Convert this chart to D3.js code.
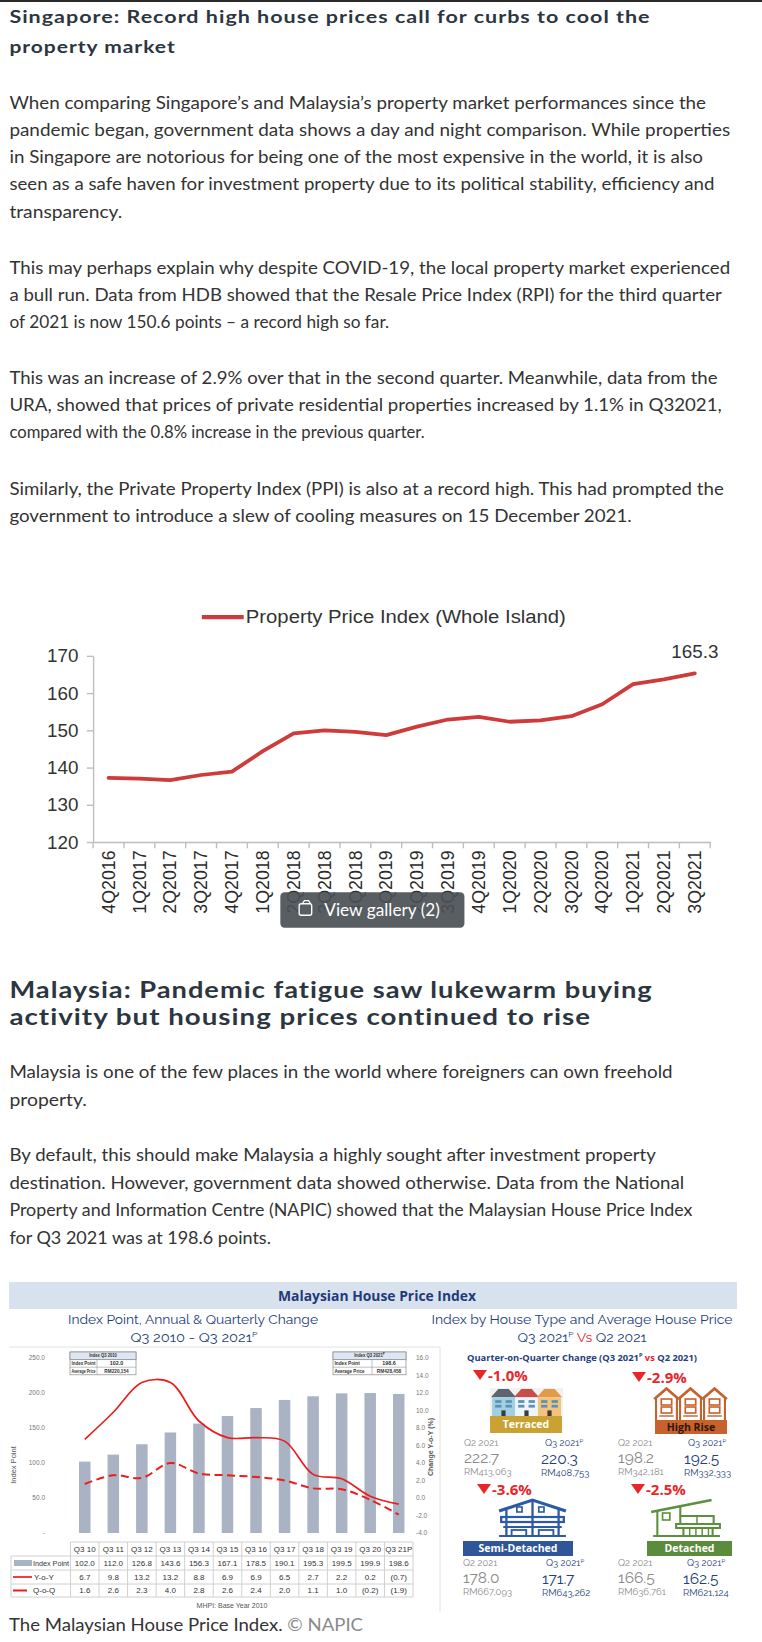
<!DOCTYPE html>
<html>
<head>
<meta charset="utf-8">
<script src="https://cdn.jsdelivr.net/npm/d3@7"></script>
<style>
body { margin: 0; background: #fff; }
svg { display: block; }
</style>
</head>
<body>
<svg id="page" width="762" height="1642"></svg>
<script>
// ---------- data ----------
const sgQuarters = ["4Q2016","1Q2017","2Q2017","3Q2017","4Q2017","1Q2018","2Q2018","3Q2018","4Q2018",
  "1Q2019","2Q2019","3Q2019","4Q2019","1Q2020","2Q2020","3Q2020","4Q2020","1Q2021","2Q2021","3Q2021"];
const sgIndex = [137.2,137.0,136.6,138.0,138.9,144.4,149.2,150.0,149.6,148.7,151.0,152.9,153.6,
  152.3,152.7,153.8,157.0,162.4,163.7,165.3];
const sgTicks = [120,130,140,150,160,170];

const myQuarters = ["Q3 10","Q3 11","Q3 12","Q3 13","Q3 14","Q3 15","Q3 16","Q3 17","Q3 18","Q3 19","Q3 20","Q3 21P"];
const myIndexPoint = [102.0,112.0,126.8,143.6,156.3,167.1,178.5,190.1,195.3,199.5,199.9,198.6];
const myYoY = [6.7,9.8,13.2,13.2,8.8,6.9,6.9,6.5,2.7,2.2,0.2,-0.7];
const myQoQ = [1.6,2.6,2.3,4.0,2.8,2.6,2.4,2.0,1.1,1.0,-0.2,-1.9];
const leftTicks = [0,50,100,150,200,250];
const rightTicks = [-4,-2,0,2,4,6,8,10,12,14,16];
const startBox = [["Index Q3 2010",""],["Index Point","102.0"],["Average Price","RM220,154"]];
const endBox = [["Index Q3 2021",""],["Index Point","198.6"],["Average Price","RM428,458"]];

const houseTypes = ["Terraced","High Rise","Semi-Detached","Detached"];
const houseChange = [-1.0,-2.9,-3.6,-2.5];
const houseIndexQ2 = [222.7,198.2,178.0,166.5];
const houseIndexQ3 = [220.3,192.5,171.7,162.5];
const housePriceQ2 = ["RM413,063","RM342,181","RM667,093","RM636,761"];
const housePriceQ3 = ["RM408,753","RM332,333","RM643,262","RM621,124"];

// ---------- page ----------
const svg = d3.select("#page");
svg.append("rect").attr("width",762).attr("height",1642).attr("fill","#fff");
svg.append("rect").attr("x",0).attr("y",0).attr("width",762).attr("height",2).attr("fill","#2a2a2a");

// article part (laid out on a slightly smaller grid, then scaled up)
const article = svg.append("g").attr("transform","scale(1.046)");

const BODY = "Lato, 'Open Sans', sans-serif";
const textBlocks = [
  {type:"h1", y0:22, lh:29, lines:[["Singapore: Record high house prices call for curbs to cool the",613],["property market",159]]},
  {type:"p", y0:104, lh:26, lines:[
    ["When comparing Singapore\u2019s and Malaysia\u2019s property market performances since the",666],
    ["pandemic began, government data shows a day and night comparison. While properties",689],
    ["in Singapore are notorious for being one of the most expensive in the world, it is also",663],
    ["seen as a safe haven for investment property due to its political stability, efficiency and",674],
    ["transparency.",108]]},
  {type:"p", y0:262, lh:26, lines:[
    ["This may perhaps explain why despite COVID-19, the local property market experienced",689],
    ["a bull run. Data from HDB showed that the Resale Price Index (RPI) for the third quarter",681],
    ["of 2021 is now 150.6 points \u2013 a record high so far.",363]]},
  {type:"p", y0:367, lh:26, lines:[
    ["This was an increase of 2.9% over that in the second quarter. Meanwhile, data from the",677],
    ["URA, showed that prices of private residential properties increased by 1.1% in Q32021,",681],
    ["compared with the 0.8% increase in the previous quarter.",397]]},
  {type:"p", y0:473, lh:26, lines:[
    ["Similarly, the Private Property Index (PPI) is also at a record high. This had prompted the",683],
    ["government to introduce a slew of cooling measures on 15 December 2021.",595]]},
  {type:"h2", y0:954, lh:26, lines:[["Malaysia: Pandemic fatigue saw lukewarm buying",615],["activity but housing prices continued to rise",556]]},
  {type:"p", y0:1031, lh:26, lines:[
    ["Malaysia is one of the few places in the world where foreigners can own freehold",634],
    ["property.",74]]},
  {type:"p", y0:1110, lh:26.3, lines:[
    ["By default, this should make Malaysia a highly sought after investment property",618],
    ["destination. However, government data showed otherwise. Data from the National",645],
    ["Property and Information Centre (NAPIC) showed that the Malaysian House Price Index",653],
    ["for Q3 2021 was at 198.6 points.",250]]}
];
const styles = {
  h1: {size:17, weight:700, fill:"#2c3640", ls:0.8},
  h2: {size:22, weight:700, fill:"#2c3640", ls:0.8},
  p:  {size:16.5, weight:400, fill:"#333", ls:0}
};
textBlocks.forEach(b => {
  const st = styles[b.type];
  article.append("g").selectAll("text").data(b.lines).join("text")
    .attr("x", 9).attr("y", (d,i) => b.y0 + i*b.lh)
    .attr("font-family", BODY).attr("font-size", st.size).attr("font-weight", st.weight)
    .attr("letter-spacing", st.ls).attr("fill", st.fill)
    .attr("textLength", d => d[1]).attr("lengthAdjust", "spacingAndGlyphs")
    .text(d => d[0]);
});

// ---------- Singapore line chart ----------
const ARIAL = "'Liberation Sans', Arial, sans-serif";
const sgX = d3.scaleBand().domain(sgQuarters).range([89, 679]);
const sgY = d3.scaleLinear().domain([120, 170]).range([805, 627]);
const sg = article.append("g");

sg.append("g").attr("transform","translate(89,0)")
  .call(d3.axisLeft(sgY).tickValues(sgTicks).tickSize(6).tickSizeOuter(0).tickPadding(8))
  .call(g => {
    g.selectAll("path,line").attr("stroke","#bdbdbd").attr("stroke-width",1.3);
    g.selectAll("text").attr("font-family",ARIAL).attr("font-size",18).attr("fill","#333");
  });
sg.append("g").attr("transform","translate(0,805)")
  .call(d3.axisBottom(sgX).tickSize(0).tickFormat(""))
  .call(g => g.select("path").attr("stroke","#bdbdbd").attr("stroke-width",1.3));
sg.append("g").selectAll("line").data(d3.range(sgQuarters.length + 1)).join("line")
  .attr("x1", i => sgX.range()[0] + i*sgX.step()).attr("x2", i => sgX.range()[0] + i*sgX.step())
  .attr("y1", 805).attr("y2", 811).attr("stroke","#bdbdbd").attr("stroke-width",1.3);
sg.append("g").selectAll("text").data(sgQuarters).join("text")
  .attr("transform", d => `translate(${sgX(d) + sgX.bandwidth()/2},813) rotate(-90)`)
  .attr("dy","0.35em").attr("text-anchor","end")
  .attr("font-family",ARIAL).attr("font-size",17).attr("fill","#2a2a2a")
  .text(d => d);

sg.append("path").datum(sgIndex)
  .attr("fill","none").attr("stroke","#cf3a3a").attr("stroke-width",3.6)
  .attr("stroke-linejoin","round").attr("stroke-linecap","round")
  .attr("d", d3.line().x((d,i) => sgX(sgQuarters[i]) + sgX.bandwidth()/2).y(d => sgY(d)));

const lastI = sgIndex.length - 1;
sg.append("text")
  .attr("x", sgX(sgQuarters[lastI]) + sgX.bandwidth()/2).attr("y", 629)
  .attr("text-anchor","middle").attr("font-family",ARIAL).attr("font-size",18).attr("fill","#333")
  .text(sgIndex[lastI].toFixed(1));

sg.append("line").attr("x1",193).attr("x2",233).attr("y1",590).attr("y2",590)
  .attr("stroke","#cf3a3a").attr("stroke-width",4);
sg.append("text").attr("x",235).attr("y",596)
  .attr("font-family",ARIAL).attr("font-size",18).attr("fill","#333")
  .attr("textLength",306).attr("lengthAdjust","spacingAndGlyphs")
  .text("Property Price Index (Whole Island)");

// gallery button
const btn = article.append("g");
btn.append("rect").attr("x",268).attr("y",853).attr("width",176).attr("height",34).attr("rx",4)
  .attr("fill","#4b5056").attr("opacity",0.92);
btn.append("rect").attr("x",286).attr("y",864).attr("width",12).attr("height",11).attr("rx",2)
  .attr("fill","none").attr("stroke","#fff").attr("stroke-width",1.3);
btn.append("path").attr("d","M289,864 L291,861 L295,861 L297,864").attr("fill","none").attr("stroke","#fff").attr("stroke-width",1.2);
btn.append("text").attr("x",310).attr("y",876).attr("font-family",BODY).attr("font-size",16.5)
  .attr("fill","#fff").text("View gallery (2)");

// ---------- Malaysian House Price Index infographic ----------
const NAVY = "#24407a";
const RED = "#e8262a";
const TITLE = "Raleway, Lato, sans-serif";
const SANS = "'Open Sans', sans-serif";
const M = svg.append("g");
M.append("rect").attr("x",9).attr("y",1282).attr("width",728).attr("height",27).attr("fill","#d8e1ee");
M.append("text").attr("x",377).attr("y",1301).attr("text-anchor","middle")
  .attr("font-family",SANS).attr("font-weight",700).attr("font-size",14.5).attr("fill","#1f3b78")
  .attr("textLength",198).attr("lengthAdjust","spacingAndGlyphs")
  .text("Malaysian House Price Index");

function title(x, y, parts, size, len) {
  const t = M.append("text").attr("x",x).attr("y",y).attr("text-anchor","middle")
    .attr("font-family",TITLE).attr("font-size",size).attr("fill",NAVY);
  if (len) t.attr("textLength",len).attr("lengthAdjust","spacingAndGlyphs");
  parts.forEach(p => {
    const s = t.append("tspan").text(p.t);
    if (p.sup) s.attr("baseline-shift","super").attr("font-size",size*0.6);
    if (p.fill) s.attr("fill",p.fill);
    if (p.weight) s.attr("font-weight",p.weight);
  });
  return t;
}
title(193, 1324, [{t:"Index Point, Annual & Quarterly Change"}], 13.5, 250);
title(194, 1342, [{t:"Q3 2010 -  Q3 2021"},{t:"P",sup:true}], 13.5, 127);
title(582, 1324, [{t:"Index by House Type and Average House Price"}], 13.5, 301);
title(582, 1342, [{t:"Q3 2021"},{t:"P",sup:true},{t:" Vs ",fill:RED},{t:"Q2 2021"}], 13.5, 129);
title(582, 1361, [{t:"Quarter-on-Quarter Change (Q3 2021",weight:700},{t:"P",sup:true,weight:700},{t:" vs ",fill:RED,weight:700},{t:"Q2 2021)",weight:700}], 9.5, 230)
  .attr("font-family",SANS);

// chart frame
M.append("line").attr("x1",9).attr("x2",440).attr("y1",1347).attr("y2",1347).attr("stroke","#e2e2e2");
M.append("line").attr("x1",440).attr("x2",440).attr("y1",1347).attr("y2",1612).attr("stroke","#e2e2e2");

const mx = d3.scaleBand().domain(myQuarters).range([70.5, 413]);
const myL = d3.scaleLinear().domain([0, 250]).range([1533, 1358]);
const myR = d3.scaleLinear().domain([-4, 16]).range([1533, 1358]);
const cx = q => mx(q) + mx.bandwidth()/2;
const SMALL = "'Liberation Sans', Arial, sans-serif";

M.append("g").selectAll("text").data(leftTicks).join("text")
  .attr("x",45).attr("y",d => myL(d) + 2.2).attr("text-anchor","end")
  .attr("font-family",SMALL).attr("font-size",6.5).attr("fill","#777")
  .text(d => d === 0 ? "-" : d.toFixed(1));
M.append("g").selectAll("text").data(rightTicks).join("text")
  .attr("x",416).attr("y",d => myR(d) + 2.2)
  .attr("font-family",SMALL).attr("font-size",6.5).attr("fill","#777")
  .text(d => d.toFixed(1));
M.append("text").attr("transform","translate(16,1465) rotate(-90)").attr("text-anchor","middle")
  .attr("font-family",SMALL).attr("font-size",7.5).attr("fill","#555").text("Index Point");
M.append("text").attr("transform","translate(433,1447) rotate(-90)").attr("text-anchor","middle")
  .attr("font-family",SMALL).attr("font-size",7).attr("font-weight",700).attr("fill","#555").text("Change Y-o-Y (%)");

M.append("g").selectAll("rect").data(myIndexPoint).join("rect")
  .attr("x",(d,i) => cx(myQuarters[i]) - 5.75).attr("width",11.5)
  .attr("y",d => myL(d)).attr("height",d => myL(0) - myL(d))
  .attr("fill","#a9b3c3");

const curve = d3.curveCatmullRom.alpha(0.5);
M.append("path").datum(myYoY).attr("fill","none").attr("stroke","#ee1c1c").attr("stroke-width",1.7)
  .attr("d", d3.line().x((d,i) => cx(myQuarters[i])).y(d => myR(d)).curve(curve));
M.append("path").datum(myQoQ).attr("fill","none").attr("stroke","#ee1c1c").attr("stroke-width",2)
  .attr("stroke-dasharray","8,4.5")
  .attr("d", d3.line().x((d,i) => cx(myQuarters[i])).y(d => myR(d)).curve(curve));

function miniBox(x, y, w, split, rows, supFirst) {
  const g = M.append("g");
  const rh = 7.6;
  g.append("rect").attr("x",x).attr("y",y).attr("width",w).attr("height",rh*3).attr("fill","#fff").attr("stroke","#888").attr("stroke-width",0.7);
  g.append("rect").attr("x",x).attr("y",y).attr("width",w).attr("height",rh).attr("fill","#dde6f2").attr("stroke","#888").attr("stroke-width",0.7);
  const cell = (tx, ty, txt, maxW, anchor) => g.append("text").attr("x",tx).attr("y",ty).attr("text-anchor",anchor)
    .attr("font-family",SMALL).attr("font-size",4.8).attr("font-weight",700).attr("fill","#333")
    .attr("textLength",maxW).attr("lengthAdjust","spacingAndGlyphs").text(txt);
  rows.forEach((r,i) => {
    if (i > 0) g.append("line").attr("x1",x).attr("x2",x+w).attr("y1",y+rh*i).attr("y2",y+rh*i).attr("stroke","#999").attr("stroke-width",0.6);
    const ty = y + rh*i + rh*0.7;
    if (i === 0) {
      const t = cell(x+w/2, ty, r[0], w*0.42, "middle");
      if (supFirst) t.append("tspan").attr("baseline-shift","super").attr("font-size",3.4).text("P");
    } else {
      g.append("line").attr("x1",x+split).attr("x2",x+split).attr("y1",y+rh*i).attr("y2",y+rh*(i+1)).attr("stroke","#999").attr("stroke-width",0.6);
      cell(x+1.5, ty, r[0], Math.min(split-3, r[0].length*2.3), "start");
      cell(x+split+(w-split)/2, ty, r[1], Math.min(w-split-4, r[1].length*2.7), "middle");
    }
  });
}
miniBox(70, 1352, 66, 27, startBox, false);
miniBox(333, 1352, 73, 39, endBox, true);

// table under chart
const rowY = [1542, 1556, 1570, 1584, 1597];
const tbl = M.append("g").attr("font-family",SMALL).attr("font-size",8).attr("fill","#333");
tbl.append("line").attr("x1",70.5).attr("x2",413).attr("y1",rowY[0]).attr("y2",rowY[0]).attr("stroke","#d0d0d0");
rowY.slice(1).forEach(y => tbl.append("line").attr("x1",11).attr("x2",413).attr("y1",y).attr("y2",y).attr("stroke","#d0d0d0"));
d3.range(myQuarters.length + 1).forEach(i => {
  const x = mx.range()[0] + i*mx.step();
  tbl.append("line").attr("x1",x).attr("x2",x).attr("y1",rowY[0]).attr("y2",rowY[4]).attr("stroke","#d0d0d0");
});
tbl.append("line").attr("x1",11).attr("x2",11).attr("y1",rowY[1]).attr("y2",rowY[4]).attr("stroke","#d0d0d0");
const fmtParen = v => v < 0 ? "(" + Math.abs(v).toFixed(1) + ")" : v.toFixed(1);
const tableRows = [myQuarters, myIndexPoint.map(v => v.toFixed(1)), myYoY.map(fmtParen), myQoQ.map(fmtParen)];
tableRows.forEach((row, r) => {
  tbl.append("g").selectAll("text").data(row).join("text")
    .attr("x",(d,i) => cx(myQuarters[i])).attr("y",(rowY[r] + rowY[r+1])/2 + 2.9)
    .attr("text-anchor","middle").text(d => d);
});
const legY = r => (rowY[r] + rowY[r+1])/2;
tbl.append("rect").attr("x",14).attr("y",legY(1)-3).attr("width",18).attr("height",6).attr("fill","#a9b3c3");
tbl.append("line").attr("x1",13).attr("x2",32).attr("y1",legY(2)).attr("y2",legY(2)).attr("stroke","#ee1c1c").attr("stroke-width",1.7);
tbl.append("line").attr("x1",13).attr("x2",27).attr("y1",legY(3)).attr("y2",legY(3)).attr("stroke","#ee1c1c").attr("stroke-width",2);
tbl.append("text").attr("x",33).attr("y",legY(1)+2.9).attr("textLength",36).attr("lengthAdjust","spacingAndGlyphs").text("Index Point");
tbl.append("text").attr("x",34).attr("y",legY(2)+2.9).text("Y-o-Y");
tbl.append("text").attr("x",33).attr("y",legY(3)+2.9).text("Q-o-Q");
M.append("text").attr("x",232).attr("y",1608).attr("text-anchor","middle")
  .attr("font-family",SMALL).attr("font-size",7).attr("fill","#555").text("MHPI: Base Year 2010");

// ---------- house type cells ----------
const cells = [
  {lab:[473,1375], ico:[492,1388,69,28], ban:[490,1416,72,17], bc:"#c9a233", btx:"#fff", q2x:464, q3x:541, ry:1446},
  {lab:[632,1377], ico:[655,1387,71,33], ban:[655,1420,72,14], bc:"#c8612b", btx:"#2e160a", q2x:618, q3x:684, ry:1446},
  {lab:[477,1489], ico:[497,1498,71,38], ban:[463,1541,110,15], bc:"#2e5699", btx:"#fff", q2x:463, q3x:542, ry:1566},
  {lab:[631,1489], ico:[649,1498,73,38], ban:[647,1541,85,15], bc:"#5b8c3b", btx:"#fff", q2x:618, q3x:683, ry:1566}
];

function drawTerraced(g) {
  const roofs = ["#5d6370","#c94b4b","#e39a4c"], walls = ["#a3cfe3","#eef4f7","#f1c37c"];
  g.append("rect").attr("x",-2).attr("y",0).attr("width",70).attr("height",30).attr("fill","#f1f1f1");
  [0,1,2].forEach(i => {
    const hx = i*22;
    g.append("path").attr("d",`M${hx-1},10 L${hx+6},1 L${hx+16},1 L${hx+23},10 Z`).attr("fill",roofs[i]);
    g.append("rect").attr("x",hx).attr("y",10).attr("width",22).attr("height",20).attr("fill",walls[i]);
    [[3,13],[13,13],[3,18],[13,18]].forEach(w => g.append("rect").attr("x",hx+w[0]).attr("y",w[1]).attr("width",6).attr("height",3).attr("fill","#5b93b8"));
    g.append("rect").attr("x",hx+9).attr("y",24).attr("width",4).attr("height",6).attr("fill","#3b3b3b");
  });
}
function drawHighRise(g) {
  const c = "#c8612b";
  [0,1,2].forEach(i => {
    const hx = 1 + i*23;
    g.append("path").attr("d",`M${hx},33 V11 L${hx+10},2 L${hx+20},11 V33`)
      .attr("fill","#fff").attr("stroke",c).attr("stroke-width",2);
    g.append("path").attr("d",`M${hx-2},12 L${hx+10},1 L${hx+22},12`).attr("fill","none").attr("stroke",c).attr("stroke-width",2);
    [12,20].forEach(wy => g.append("rect").attr("x",hx+5).attr("y",wy).attr("width",10).attr("height",6)
      .attr("fill","none").attr("stroke",c).attr("stroke-width",1.6));
    g.append("line").attr("x1",hx+3).attr("x2",hx+17).attr("y1",29).attr("y2",29).attr("stroke",c).attr("stroke-width",1.4);
  });
}
function outline(g, c, w) {
  return (tag, attrs) => {
    const e = g.append(tag);
    Object.entries({fill:"none", stroke:c, "stroke-width":w, ...attrs}).forEach(([k,v]) => e.attr(k,v));
    return e;
  };
}
function drawSemi(g) {
  const app = outline(g, "#2d5aa6", 2.2);
  app("path",{d:"M2,13 L34,2 L66,13", "stroke-width":3});
  app("line",{x1:34,x2:34,y1:3,y2:38});
  app("line",{x1:9,x2:9,y1:11,y2:38});
  app("line",{x1:59,x2:59,y1:11,y2:38});
  app("rect",{x:19,y:9,width:5,height:5,"stroke-width":1.6});
  app("rect",{x:40,y:9,width:5,height:5,"stroke-width":1.6});
  app("rect",{x:4,y:19,width:60,height:5});
  app("line",{x1:6,x2:62,y1:29,y2:29});
  app("rect",{x:14,y:32,width:14,height:6,"stroke-width":1.8});
  app("rect",{x:40,y:32,width:14,height:6,"stroke-width":1.8});
  app("line",{x1:2,x2:66,y1:38,y2:38});
}
function drawDetached(g) {
  const app = outline(g, "#5b913c", 2);
  app("path",{d:"M2,14 L60,2", "stroke-width":2.6});
  app("path",{d:"M8,13 V38"});
  app("path",{d:"M30,8 V18"});
  app("rect",{x:13,y:15,width:7,height:7,"stroke-width":1.6});
  app("rect",{x:30,y:18,width:32,height:8});
  app("line",{x1:46,x2:46,y1:18,y2:26,"stroke-width":1.4});
  app("rect",{x:26,y:26,width:42,height:4});
  app("rect",{x:33,y:30,width:28,height:8});
  [39,45,51,57].forEach(vx => app("line",{x1:vx,x2:vx,y1:30,y2:38,"stroke-width":1.4}));
  app("line",{x1:4,x2:68,y1:38,y2:38});
}
const drawers = [drawTerraced, drawHighRise, drawSemi, drawDetached];
const iconBase = [[66,30],[68,33],[68,38],[70,38]];

houseTypes.forEach((type, i) => {
  const c = cells[i];
  const g = M.append("g");
  // change label
  g.append("path").attr("d",`M${c.lab[0]},${c.lab[1]-5} L${c.lab[0]+14},${c.lab[1]-5} L${c.lab[0]+7},${c.lab[1]+5} Z`).attr("fill",RED);
  g.append("text").attr("x",c.lab[0]+15).attr("y",c.lab[1]+5.5)
    .attr("font-family",SANS).attr("font-weight",700).attr("font-size",15).attr("fill",RED)
    .text(houseChange[i].toFixed(1) + "%");
  const ig = g.append("g")
    .attr("transform",`translate(${c.ico[0]},${c.ico[1]}) scale(${c.ico[2]/iconBase[i][0]},${c.ico[3]/iconBase[i][1]})`);
  drawers[i](ig);
  g.append("rect").attr("x",c.ban[0]).attr("y",c.ban[1]).attr("width",c.ban[2]).attr("height",c.ban[3]).attr("fill",c.bc);
  g.append("text").attr("x",c.ban[0]+c.ban[2]/2).attr("y",c.ban[1]+c.ban[3]/2+3.8).attr("text-anchor","middle")
    .attr("font-family",SANS).attr("font-weight",700).attr("font-size",10.5).attr("fill",c.btx)
    .text(type);
  // figures
  const f = (x, y, txt, size, fill) => g.append("text").attr("x",x).attr("y",y)
    .attr("font-family",TITLE).attr("font-size",size).attr("fill",fill).text(txt);
  f(c.q2x, c.ry, "Q2 2021", 9.5, "#8a8a8a");
  f(c.q3x+4, c.ry, "Q3 2021", 9.5, NAVY).append("tspan").attr("baseline-shift","super").attr("font-size",6).text("P");
  f(c.q2x, c.ry+17, houseIndexQ2[i].toFixed(1), 15.5, "#8a8a8a");
  f(c.q3x, c.ry+18, houseIndexQ3[i].toFixed(1), 15.5, NAVY);
  f(c.q2x, c.ry+29, housePriceQ2[i], 9.5, "#8a8a8a");
  f(c.q3x, c.ry+30, housePriceQ3[i], 9.5, NAVY);
});

// caption
const cap = svg.append("text").attr("x",9).attr("y",1631).attr("font-family",BODY).attr("font-size",17.5).attr("fill","#333")
  .attr("textLength",354).attr("lengthAdjust","spacingAndGlyphs");
cap.append("tspan").text("The Malaysian House Price Index. ");
cap.append("tspan").attr("fill","#8a8a8a").text("\u00a9 NAPIC");
</script>
</body>
</html>
